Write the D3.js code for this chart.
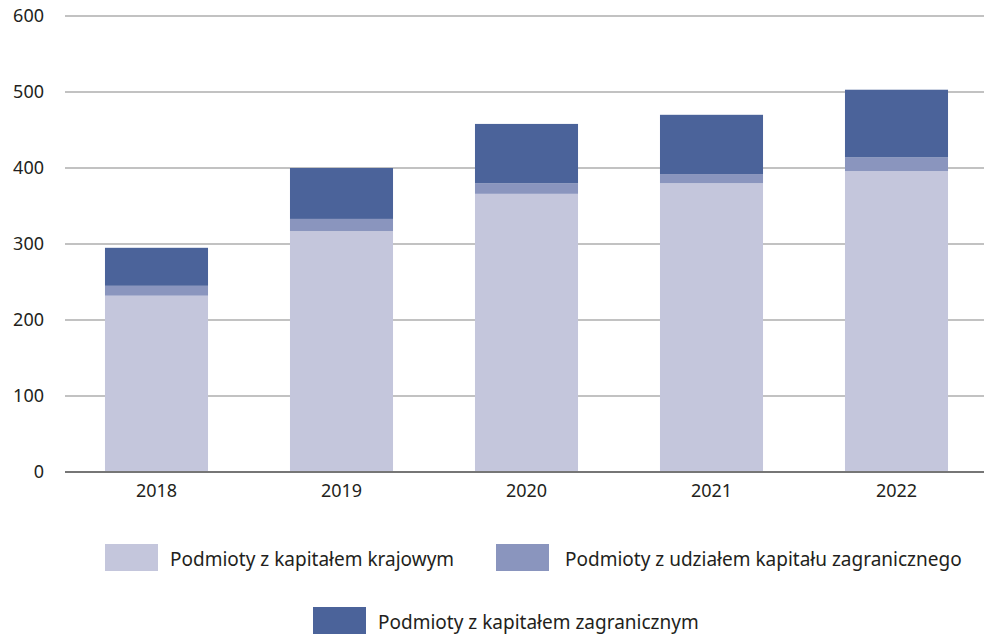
<!DOCTYPE html>
<html>
<head>
<meta charset="utf-8">
<script src="https://cdn.jsdelivr.net/npm/d3@7"></script>
<style>
    body { margin: 0; background: #fff; }
    svg text { font-family: "Noto Sans", "Open Sans", sans-serif; fill: #231f20; }
</style>
</head>
<body>
<div id="chart"></div>
<script>
// Dane
const years = ["2018", "2019", "2020", "2021", "2022"];
const krajowy = [232, 317, 366, 380, 396];
const udzial = [13, 16, 14, 12, 18];
const zagraniczny = [50, 67, 78, 78, 89];
const yTicks = [0, 100, 200, 300, 400, 500, 600];

const seriesNames = [
    "Podmioty z kapitałem krajowym",
    "Podmioty z udziałem kapitału zagranicznego",
    "Podmioty z kapitałem zagranicznym"
];
const colors = ["#c4c6dc", "#8a95be", "#4b639a"];

const width = 984, height = 636;
const margin = { top: 16, right: 0, bottom: 164, left: 65 };

// Tabela dla d3.stack
const table = years.map((y, i) => ({
    year: y,
    s0: krajowy[i],
    s1: udzial[i],
    s2: zagraniczny[i]
}));
const stacked = d3.stack().keys(["s0", "s1", "s2"])(table);

const svg = d3.select("#chart")
    .append("svg")
    .attr("width", width)
    .attr("height", height);

const x = d3.scaleBand()
    .domain(years)
    .range([64, 989])
    .paddingInner(0.443)
    .paddingOuter(0.2215);

const y = d3.scaleLinear()
    .domain([0, 600])
    .range([height - margin.bottom, margin.top]);

// Linie siatki
svg.append("g")
    .selectAll("line")
    .data(yTicks)
    .enter()
    .append("line")
    .attr("x1", margin.left)
    .attr("x2", width)
    .attr("y1", d => y(d))
    .attr("y2", d => y(d))
    .attr("stroke", d => d === 0 ? "#767676" : "#868686")
    .attr("stroke-width", d => d === 0 ? 2 : 1.2);

// Słupki
svg.append("g")
    .selectAll("g")
    .data(stacked)
    .enter()
    .append("g")
    .attr("fill", (d, i) => colors[i])
    .selectAll("rect")
    .data(d => d)
    .enter()
    .append("rect")
    .attr("x", d => x(d.data.year))
    .attr("width", x.bandwidth())
    .attr("y", d => y(d[1]))
    .attr("height", d => y(d[0]) - y(d[1]) + (d[0] === 0 ? -1 : 0));

// Oś Y
svg.append("g")
    .selectAll("text")
    .data(yTicks)
    .enter()
    .append("text")
    .attr("x", 44)
    .attr("y", d => y(d))
    .attr("dy", "0.35em")
    .attr("text-anchor", "end")
    .style("font-size", "18px")
    .text(d => d);

// Oś X
svg.append("g")
    .selectAll("text")
    .data(years)
    .enter()
    .append("text")
    .attr("x", d => x(d) + x.bandwidth() / 2)
    .attr("y", 497)
    .attr("text-anchor", "middle")
    .style("font-size", "18px")
    .text(d => d);

// Legenda
const legendPos = [
    { sx: 105, sy: 544, tx: 170 },
    { sx: 496, sy: 544, tx: 565 },
    { sx: 313, sy: 607, tx: 378 }
];
const legend = svg.append("g")
    .selectAll("g")
    .data(seriesNames)
    .enter()
    .append("g");

legend.append("rect")
    .attr("x", (d, i) => legendPos[i].sx)
    .attr("y", (d, i) => legendPos[i].sy)
    .attr("width", 53)
    .attr("height", 27)
    .attr("fill", (d, i) => colors[i]);

legend.append("text")
    .attr("x", (d, i) => legendPos[i].tx)
    .attr("y", (d, i) => legendPos[i].sy + 22)
    .style("font-size", "19px")
    .text(d => d);
</script>
</body>
</html>
